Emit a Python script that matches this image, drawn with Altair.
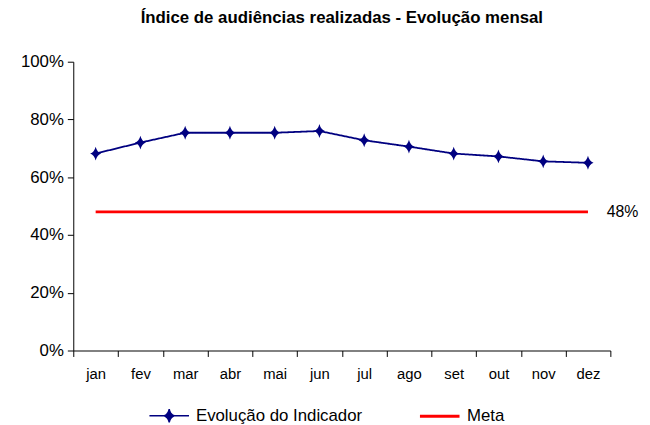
import altair as alt
import pandas as pd

meses = ["jan", "fev", "mar", "abr", "mai", "jun", "jul", "ago", "set", "out", "nov", "dez"]
indicador = [0.682, 0.720, 0.754, 0.754, 0.754, 0.760, 0.728, 0.706, 0.682, 0.672, 0.655, 0.650]
meta = [0.48, 0.48, 0.48, 0.48, 0.48, 0.48, 0.48, 0.48, 0.48, 0.48, 0.48, 0.48]
serie_ind = "Evolução do Indicador"
serie_meta = "Meta"
meta_rotulo = "48%"
titulo = "Índice de audiências realizadas - Evolução mensal"

NAVY = "#000080"
RED = "#FF0000"
FONT = "Liberation Sans"

df = pd.DataFrame({
    "mes": meses,
    "indicador": indicador,
    "meta": meta,
    "s_ind": [serie_ind] * len(meses),
    "s_meta": [serie_meta] * len(meses),
})
df_lab = pd.DataFrame({"mes": [meses[-1]], "meta": [meta[-1]], "txt": [meta_rotulo]})

DIAMOND = "M0,-1Q0.2,-0.2 0.8,0Q0.2,0.2 0,1Q-0.2,0.2 -0.8,0Q-0.2,-0.2 0,-1Z"
LEG = "M-1,0H1M0,-0.33Q0.06,-0.06 0.26,0Q0.06,0.06 0,0.33Q-0.06,0.06 -0.26,0Q-0.06,-0.06 0,-0.33Z"

x = alt.X("mes:N", sort=meses,
          scale=alt.Scale(paddingInner=0, paddingOuter=0),
          axis=alt.Axis(title=None, labelAngle=0, tickBand="extent", labelFontSize=15,
                        labelPadding=10, tickSize=6))
yax = alt.Axis(title=None, format=".0%", values=[0, 0.2, 0.4, 0.6, 0.8, 1.0], grid=False,
               labelFontSize=17, tickSize=6, labelPadding=4)
yscale = alt.Scale(domain=[0, 1], nice=False)

base = alt.Chart(df)

linha = base.mark_line(color=NAVY, strokeWidth=1.8).encode(
    x=x,
    y=alt.Y("indicador:Q", scale=yscale, axis=yax),
    strokeDash=alt.StrokeDash("s_ind:N", scale=alt.Scale(domain=[serie_ind], range=[[1, 0]]),
                              legend=alt.Legend(title=None, orient="none", legendX=76, legendY=337,
                                                symbolType=LEG, symbolSize=1600, symbolStrokeWidth=1.5,
                                                symbolFillColor=NAVY, symbolStrokeColor=NAVY,
                                                labelFontSize=17, labelFont=FONT, labelColor="black",
                                                labelOffset=6, padding=0, labelLimit=300)),
)

pontos = base.mark_point(filled=True, color=NAVY, shape=DIAMOND, size=196, opacity=1).encode(
    x=x,
    y=alt.Y("indicador:Q", scale=yscale, axis=yax),
)

linha_meta = base.mark_line(strokeWidth=3).encode(
    x=x,
    y=alt.Y("meta:Q", scale=yscale, axis=yax),
    color=alt.Color("s_meta:N", scale=alt.Scale(domain=[serie_meta], range=[RED]),
                    legend=alt.Legend(title=None, orient="none", legendX=349, legendY=337,
                                      symbolType="stroke", symbolSize=1600, symbolStrokeWidth=3,
                                      labelFontSize=17, labelFont=FONT, labelColor="black",
                                      labelOffset=6, padding=0)),
)

rotulo = alt.Chart(df_lab).mark_text(align="left", baseline="middle", dx=19, fontSize=16,
                                     font=FONT, color="black").encode(
    x=x,
    y=alt.Y("meta:Q", scale=yscale, axis=yax),
    text="txt:N",
)

chart = alt.layer(linha_meta, linha, pontos, rotulo).resolve_legend(
    color="independent", strokeDash="independent"
).properties(
    width=543, height=292,
    autosize="none",
    padding={"left": 66, "top": 52, "right": 32, "bottom": 73},
    title=alt.TitleParams(titulo, fontSize=17, fontWeight="bold", font=FONT, color="black",
                          anchor="middle", offset=26),
    background="white",
).configure_view(stroke=None).configure_axis(
    domainColor="black", tickColor="black", labelColor="black", labelFont=FONT, domainWidth=1,
)

chart.save("out.html", embed_options={"renderer": "svg", "actions": False})
